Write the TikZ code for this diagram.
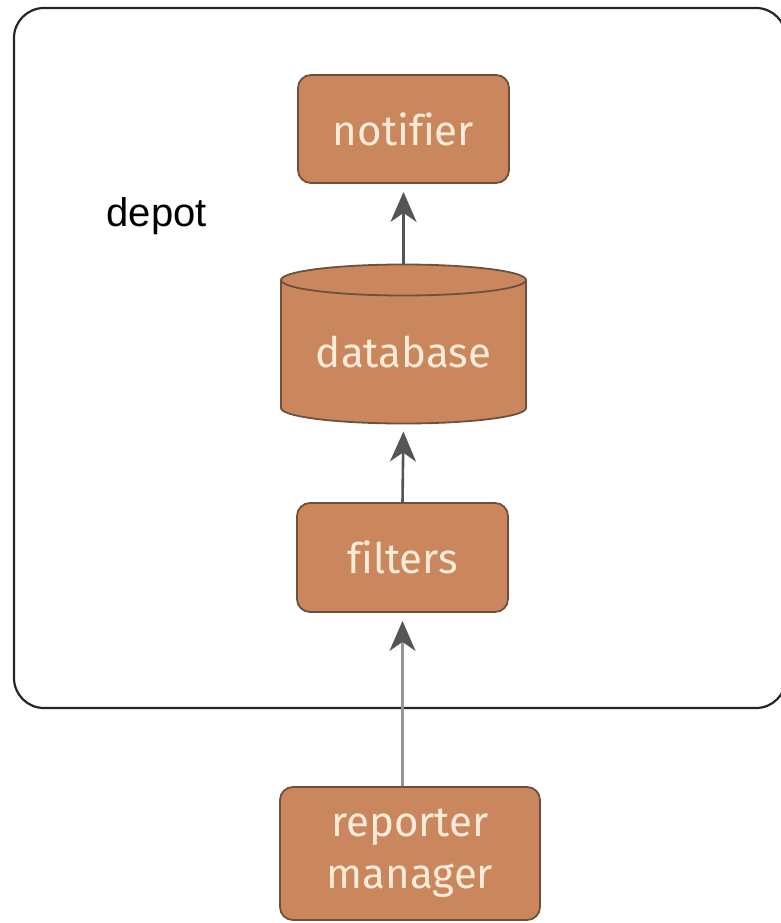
\documentclass[tikz,border=0pt]{standalone}
\usepackage{fontspec}
\setmainfont{Fira Sans}[Ligatures=NoCommon]
\newfontfamily\labelfont{Liberation Sans}
\usetikzlibrary{arrows.meta}
\definecolor{boxfill}{RGB}{202,135,93}
\definecolor{boxline}{RGB}{110,80,60}
\definecolor{boxtext}{RGB}{252,235,216}
\definecolor{arrowcol}{RGB}{85,85,85}
\definecolor{arrowlight}{RGB}{150,150,150}
\tikzset{
  compbox/.style={draw=boxline, fill=boxfill, line width=1.8pt, rounded corners=13pt,
    text=boxtext, font=\fontsize{42}{52}\selectfont, align=center, inner sep=0pt},
  flow/.style={draw=arrowcol, line width=2.6pt,
    -{Stealth[length=30pt,width=26pt,inset=9pt,color=arrowcol]}, shorten >=8pt},
}
\begin{document}
\begin{tikzpicture}[x=1pt,y=-1pt]
\useasboundingbox (0,0) rectangle (781,923);
\begin{scope}
\clip (0,0) rectangle (781,923);
\draw[line width=2.2pt, draw=black!85, rounded corners=30pt] (14,8) rectangle (786,708);
\end{scope}
\node[font=\labelfont\fontsize{40}{48}\selectfont, anchor=base west] (depotlbl) at (103,226) {depot};
% notifier
\node[compbox, minimum width=211pt, minimum height=108pt] (notifier) at (403.5,129) {notifier};
% database cylinder
\draw[draw=boxline, fill=boxfill, line width=1.8pt]
  (281,280) -- (281,408) arc[start angle=180, end angle=0, x radius=122.5, y radius=15.5]
  -- (526,280) arc[start angle=0, end angle=-180, x radius=122.5, y radius=15.5] -- cycle;
\draw[draw=boxline, line width=1.8pt] (281,280) arc[start angle=180, end angle=0, x radius=122.5, y radius=15.5];
\node[text=boxtext, font=\fontsize{42}{50}\selectfont, inner sep=0pt] (database) at (403.5,352) {database};
\coordinate (dbtop) at (403.5,264.5);
\coordinate (dbbot) at (403.5,423.5);
% filters
\node[compbox, minimum width=211pt, minimum height=109pt] (filters) at (402.5,557.5) {filters};
% reporter manager
\node[compbox, minimum width=260pt, minimum height=133pt] (reporter) at (410,853.5) {\raisebox{-4pt}{reporter}\\\raisebox{-4pt}{manager}};
% arrows
\draw[flow] (dbtop) -- (notifier.south);
\draw[flow] (filters.north) -- (dbbot);
\draw[flow, draw=arrowlight] (reporter.north -| filters.south) -- (filters.south);
\end{tikzpicture}
\end{document}
